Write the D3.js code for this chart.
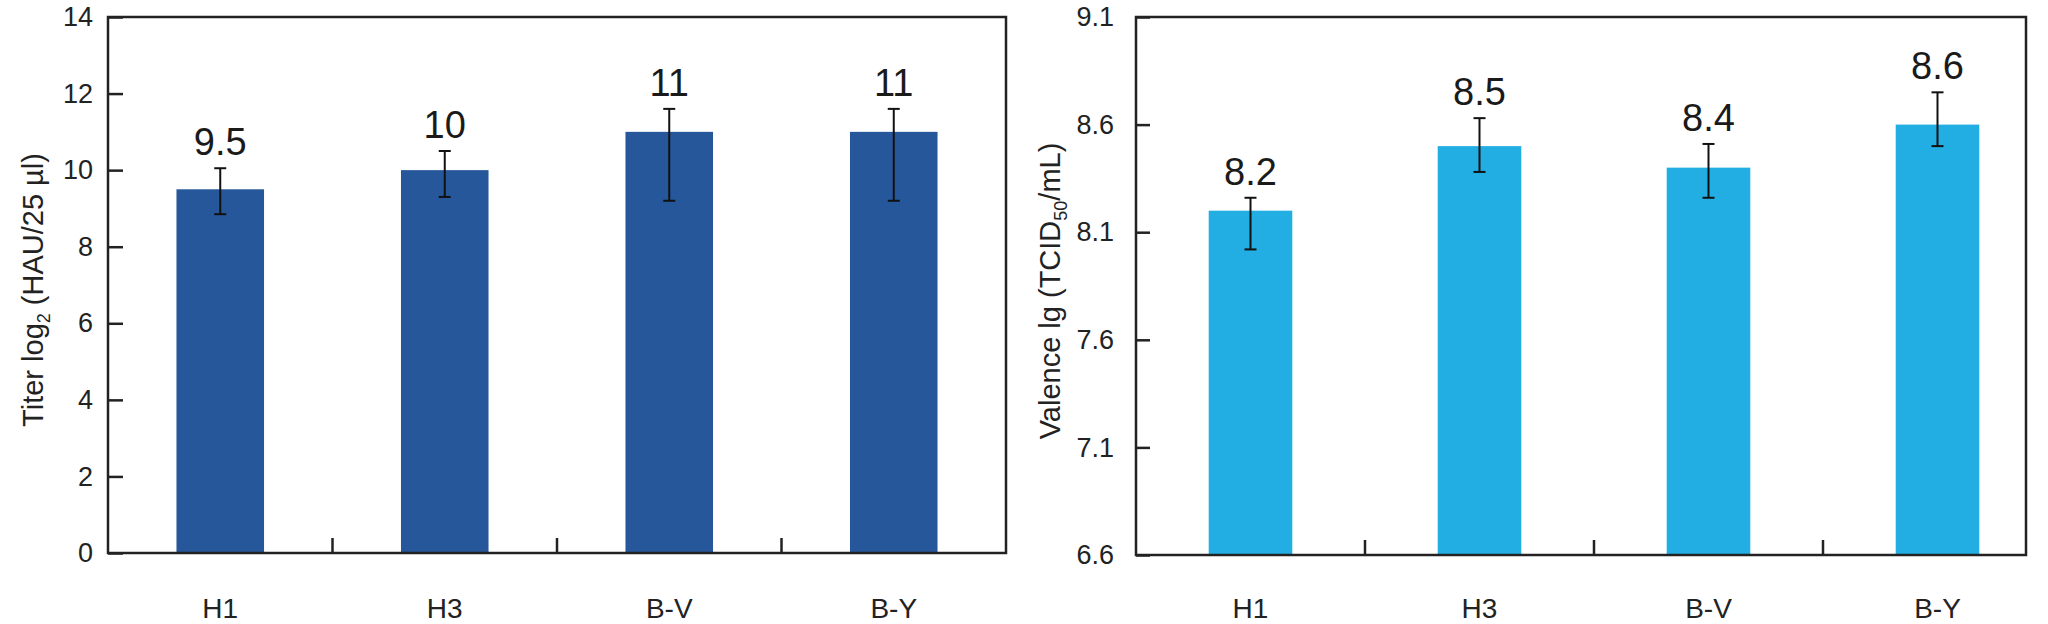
<!DOCTYPE html>
<html>
<head>
<meta charset="utf-8">
<script src="https://cdn.jsdelivr.net/npm/d3@7"></script>
<style>
  body { margin: 0; background: #fff; }
  svg { display: block; font-family: "Liberation Sans", Arial, sans-serif; }
</style>
</head>
<body>
<div id="container"></div>
<script>
// Data
var categories = ['H1', 'H3', 'B-V', 'B-Y'];

var titerValues = [9.5, 10, 11, 11];
var titerErrUp = [0.55, 0.5, 0.6, 0.6];
var titerErrDown = [0.65, 0.7, 1.8, 1.8];
var titerLabels = ['9.5', '10', '11', '11'];
var titerTicks = [0, 2, 4, 6, 8, 10, 12, 14];

var valenceValues = [8.2, 8.5, 8.4, 8.6];
var valenceErrUp = [0.06, 0.13, 0.11, 0.15];
var valenceErrDown = [0.18, 0.12, 0.14, 0.10];
var valenceLabels = ['8.2', '8.5', '8.4', '8.6'];
var valenceTicks = [6.6, 7.1, 7.6, 8.1, 8.6, 9.1];

// Basic parameters
var WIDTH = 2048,
    HEIGHT = 624;

var svg = d3.select('#container')
    .append('svg')
    .attr('width', WIDTH)
    .attr('height', HEIGHT);

var drawPanel = function(cfg) {

    var g = svg.append('g');

    var x = d3.scaleBand()
        .domain(categories)
        .range([cfg.left, cfg.bandEnd])
        .padding(0);

    var y = d3.scaleLinear()
        .domain([cfg.ticks[0], cfg.ticks[cfg.ticks.length - 1]])
        .range([cfg.bottom, cfg.top]);

    var barW = x.bandwidth() * cfg.barFrac;

    var data = categories.map(function(c, i) {
        return {
            cat: c,
            v: cfg.values[i],
            hi: cfg.values[i] + cfg.errUp[i],
            lo: cfg.values[i] - cfg.errDown[i],
            label: cfg.labels[i]
        };
    });

    // bars
    g.selectAll('.bar')
        .data(data)
        .enter()
        .append('rect')
        .attr('class', 'bar')
        .attr('x', function(d) { return x(d.cat) + (x.bandwidth() - barW) / 2; })
        .attr('width', barW)
        .attr('y', function(d) { return y(d.v); })
        .attr('height', function(d) { return y.range()[0] - y(d.v); })
        .attr('fill', cfg.color);

    // error bars
    var cx = function(d) { return x(d.cat) + x.bandwidth() / 2; };
    var err = g.selectAll('.err')
        .data(data)
        .enter()
        .append('g')
        .attr('class', 'err')
        .attr('stroke', '#111')
        .attr('stroke-width', 2);
    err.append('line')
        .attr('x1', cx).attr('x2', cx)
        .attr('y1', function(d) { return y(d.hi); })
        .attr('y2', function(d) { return y(d.lo); });
    err.append('line')
        .attr('x1', function(d) { return cx(d) - 6; })
        .attr('x2', function(d) { return cx(d) + 6; })
        .attr('y1', function(d) { return y(d.hi); })
        .attr('y2', function(d) { return y(d.hi); });
    err.append('line')
        .attr('x1', function(d) { return cx(d) - 6; })
        .attr('x2', function(d) { return cx(d) + 6; })
        .attr('y1', function(d) { return y(d.lo); })
        .attr('y2', function(d) { return y(d.lo); });

    // value labels
    g.selectAll('.val')
        .data(data)
        .enter()
        .append('text')
        .attr('class', 'val')
        .attr('x', cx)
        .attr('y', function(d) { return y(d.hi) - 13; })
        .attr('text-anchor', 'middle')
        .attr('font-size', 38)
        .attr('fill', '#1a1a1a')
        .text(function(d) { return d.label; });

    // y axis, ticks pointing inwards
    var yAxis = g.append('g')
        .attr('transform', 'translate(' + cfg.left + ',0)')
        .call(d3.axisLeft(y)
            .tickValues(cfg.ticks)
            .tickFormat(cfg.fmt)
            .tickSizeInner(-cfg.tick)
            .tickSizeOuter(0)
            .tickPadding(cfg.labelGap));
    yAxis.select('.domain').remove();
    yAxis.selectAll('.tick line').attr('stroke', '#222').attr('stroke-width', 2.5);
    yAxis.selectAll('.tick text')
        .attr('font-size', 27)
        .attr('fill', '#222');

    // x axis labels
    var xAxis = g.append('g')
        .attr('transform', 'translate(0,' + cfg.bottom + ')')
        .call(d3.axisBottom(x).tickSize(0).tickPadding(0));
    xAxis.select('.domain').remove();
    xAxis.selectAll('.tick text')
        .attr('y', 618 - cfg.bottom)
        .attr('dy', 0)
        .attr('font-size', 28)
        .attr('fill', '#222');

    // interior ticks between categories
    g.selectAll('.xtick')
        .data(categories.slice(1))
        .enter()
        .append('line')
        .attr('class', 'xtick')
        .attr('x1', function(d) { return x(d); })
        .attr('x2', function(d) { return x(d); })
        .attr('y1', cfg.bottom)
        .attr('y2', cfg.bottom - 15)
        .attr('stroke', '#222')
        .attr('stroke-width', 2.5);

    // frame
    g.append('rect')
        .attr('x', cfg.left)
        .attr('y', cfg.top)
        .attr('width', cfg.right - cfg.left)
        .attr('height', cfg.bottom - cfg.top)
        .attr('fill', 'none')
        .attr('stroke', '#222')
        .attr('stroke-width', 2.5);

    // y title
    var t = g.append('text')
        .attr('transform', 'translate(' + cfg.titleX + ',' + ((cfg.top + cfg.bottom) / 2 + 5) + ') rotate(-90)')
        .attr('text-anchor', 'middle')
        .attr('font-size', 29)
        .attr('fill', '#222');
    cfg.title.forEach(function(part) {
        var s = t.append('tspan').text(part.t);
        if (part.sub) {
            s.attr('font-size', 18).attr('dy', 7);
        } else if (part.after) {
            s.attr('dy', -7);
        }
    });
};

drawPanel({
    left: 108, right: 1006, bandEnd: 1006, top: 17, bottom: 553,
    values: titerValues, errUp: titerErrUp, errDown: titerErrDown,
    labels: titerLabels, ticks: titerTicks,
    fmt: d3.format('d'),
    barFrac: 0.39, tick: 15, labelGap: 15,
    color: '#27579b',
    titleX: 43,
    title: [{t: 'Titer log'}, {t: '2', sub: true}, {t: ' (HAU/25 \u00b5l)', after: true}]
});

drawPanel({
    left: 1136, right: 2026, bandEnd: 2052, top: 17, bottom: 555,
    values: valenceValues, errUp: valenceErrUp, errDown: valenceErrDown,
    labels: valenceLabels, ticks: valenceTicks,
    fmt: d3.format('.1f'),
    barFrac: 0.365, tick: 14, labelGap: 22,
    color: '#22ade3',
    titleX: 1060,
    title: [{t: 'Valence lg (TCID'}, {t: '50', sub: true}, {t: '/mL)', after: true}]
});
</script>
</body>
</html>
